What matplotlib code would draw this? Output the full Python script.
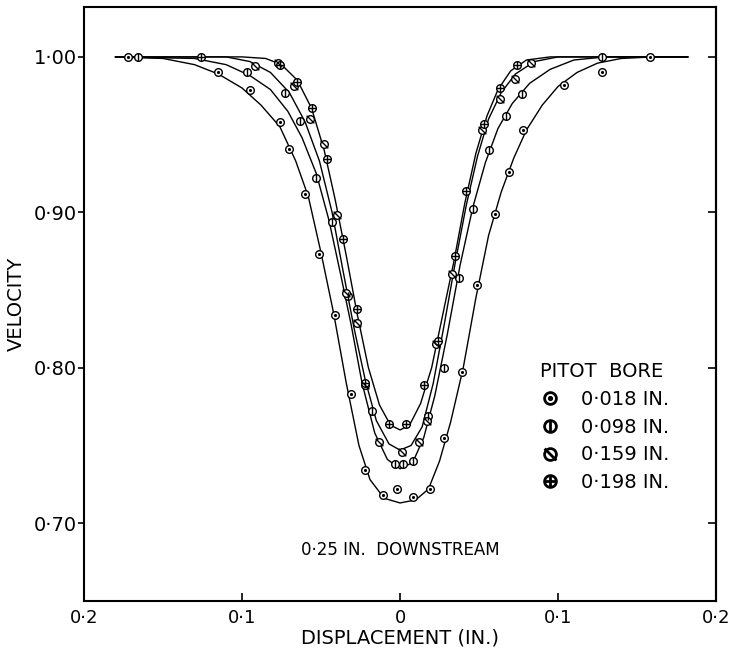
import numpy as np
import matplotlib.pyplot as plt
from matplotlib.path import Path
from matplotlib.lines import Line2D
from matplotlib.legend_handler import HandlerTuple

plt.rcParams['font.family'] = ['DejaVu Sans']

# measured points, pitot bore 0.018 in
x018 = [-0.172, -0.115, -0.095, -0.076, -0.070, -0.060, -0.051, -0.041, -0.031, -0.022,
        -0.011, -0.002, 0.008, 0.019, 0.028, 0.039, 0.049, 0.060, 0.069, 0.078, 0.104, 0.128, 0.158]
v018 = [1.000, 0.990, 0.979, 0.958, 0.941, 0.912, 0.873, 0.834, 0.783, 0.734,
        0.718, 0.722, 0.717, 0.722, 0.755, 0.797, 0.853, 0.899, 0.926, 0.953, 0.982, 0.990, 1.000]
# 0.098 in
x098 = [-0.166, -0.097, -0.073, -0.063, -0.053, -0.043, -0.033, -0.018, -0.003, 0.002,
        0.008, 0.018, 0.028, 0.037, 0.046, 0.056, 0.067, 0.077, 0.128]
v098 = [1.000, 0.990, 0.977, 0.959, 0.922, 0.894, 0.846, 0.772, 0.738, 0.738,
        0.740, 0.769, 0.800, 0.858, 0.902, 0.940, 0.962, 0.976, 1.000]
# 0.159 in
x159 = [-0.092, -0.077, -0.067, -0.057, -0.048, -0.040, -0.034, -0.027, -0.022, -0.013,
        0.001, 0.012, 0.017, 0.023, 0.033, 0.052, 0.063, 0.073, 0.083]
v159 = [0.994, 0.996, 0.981, 0.960, 0.944, 0.898, 0.848, 0.829, 0.789, 0.752,
        0.746, 0.752, 0.766, 0.815, 0.860, 0.953, 0.973, 0.986, 0.996]
# 0.198 in
x198 = [-0.126, -0.076, -0.065, -0.056, -0.046, -0.036, -0.027, -0.022, -0.007, 0.004,
        0.015, 0.024, 0.035, 0.042, 0.053, 0.063, 0.074]
v198 = [1.000, 0.995, 0.984, 0.967, 0.934, 0.883, 0.838, 0.790, 0.764, 0.764,
        0.789, 0.817, 0.872, 0.914, 0.957, 0.980, 0.995]

# faired curves
cx018 = [-0.180, -0.150, -0.130, -0.115, -0.100, -0.088, -0.076, -0.066, -0.058, -0.050, -0.042,
         -0.034, -0.026, -0.019, -0.010, 0.000, 0.010, 0.018, 0.025, 0.032, 0.040, 0.048, 0.056,
         0.064, 0.072, 0.080, 0.090, 0.100, 0.112, 0.125, 0.140, 0.160, 0.182]
cv018 = [1.000, 0.999, 0.995, 0.989, 0.980, 0.969, 0.955, 0.933, 0.910, 0.874, 0.835,
         0.790, 0.750, 0.728, 0.716, 0.713, 0.715, 0.722, 0.740, 0.765, 0.800, 0.845, 0.885,
         0.913, 0.935, 0.953, 0.969, 0.981, 0.990, 0.996, 0.999, 1.000, 1.000]
cx098 = [-0.180, -0.130, -0.110, -0.095, -0.082, -0.071, -0.062, -0.053, -0.045, -0.038, -0.031,
         -0.024, -0.016, -0.008, 0.000, 0.008, 0.015, 0.022, 0.030, 0.038, 0.046, 0.054, 0.062,
         0.071, 0.082, 0.095, 0.110, 0.130, 0.182]
cv098 = [1.000, 0.999, 0.995, 0.988, 0.979, 0.965, 0.948, 0.925, 0.895, 0.862, 0.828,
         0.790, 0.758, 0.741, 0.735, 0.739, 0.755, 0.782, 0.822, 0.866, 0.903, 0.932, 0.954,
         0.970, 0.983, 0.992, 0.998, 1.000, 1.000]
cx159 = [-0.180, -0.110, -0.095, -0.082, -0.070, -0.060, -0.051, -0.043, -0.036, -0.029, -0.022,
         -0.015, -0.007, 0.000, 0.007, 0.014, 0.021, 0.028, 0.035, 0.042, 0.049, 0.056, 0.064,
         0.073, 0.085, 0.100, 0.182]
cv159 = [1.000, 1.000, 0.997, 0.990, 0.977, 0.958, 0.933, 0.900, 0.862, 0.825, 0.792,
         0.766, 0.751, 0.747, 0.750, 0.762, 0.790, 0.828, 0.868, 0.905, 0.936, 0.960, 0.977,
         0.989, 0.997, 1.000, 1.000]
cx198 = [-0.180, -0.100, -0.085, -0.075, -0.065, -0.056, -0.048, -0.041, -0.034, -0.027, -0.020,
         -0.013, -0.006, 0.000, 0.006, 0.013, 0.020, 0.027, 0.034, 0.041, 0.048, 0.055, 0.062,
         0.070, 0.080, 0.095, 0.182]
cv198 = [1.000, 1.000, 0.999, 0.995, 0.985, 0.967, 0.940, 0.908, 0.872, 0.834, 0.800,
         0.776, 0.763, 0.760, 0.763, 0.777, 0.800, 0.834, 0.868, 0.906, 0.938, 0.962, 0.979,
         0.991, 0.998, 1.000, 1.000]

labels = ['0·018 IN.', '0·098 IN.', '0·159 IN.', '0·198 IN.']
xticks = [-0.2, -0.1, 0, 0.1, 0.2]
xticklabels = ['0·2', '0·1', '0', '0·1', '0·2']
yticks = [0.70, 0.80, 0.90, 1.00]
yticklabels = ['0·70', '0·80', '0·90', '1·00']

slash = Path([(-0.75, 0.75), (0.75, -0.75)], [Path.MOVETO, Path.LINETO])
inner = ['.', '|', slash, '+']
inner_ms = [2.5, 5.5, 5.5, 5.5]
legend_inner_ms = [3.5, 8.5, 8.5, 8.5]

fig = plt.figure(figsize=(7.30, 6.51), dpi=100)
ax = fig.add_axes([0.115, 0.077, 0.866, 0.912])

series = [(x018, v018, cx018, cv018), (x098, v098, cx098, cv098),
          (x159, v159, cx159, cv159), (x198, v198, cx198, cv198)]
handles = []
for (px, pv, cx, cv), im, ims, lms in zip(series, inner, inner_ms, legend_inner_ms):
    ax.plot(cx, cv, color='black', lw=1.0, zorder=2)
    ax.plot(px, pv, ls='none', marker='o', ms=5.5, mfc='white', mec='black', mew=1.0, zorder=3)
    ax.plot(px, pv, ls='none', marker=im, ms=ims, color='black', mew=1.0, zorder=4)
    h1 = Line2D([], [], ls='none', marker='o', ms=8.5, mfc='white', mec='black', mew=2.0)
    h2 = Line2D([], [], ls='none', marker=im, ms=lms, color='black', mew=2.0)
    handles.append((h1, h2))

ax.set_xlim(-0.2, 0.2)
ax.set_ylim(0.65, 1.032)
ax.set_xticks(xticks)
ax.set_xticklabels(xticklabels)
ax.set_yticks(yticks)
ax.set_yticklabels(yticklabels)
ax.tick_params(axis='x', direction='in', length=6, width=1.2, labelsize=13, pad=6)
ax.tick_params(axis='y', direction='out', length=4, width=1.2, labelsize=14, pad=1)
sec = ax.secondary_yaxis('right')
sec.set_yticks(yticks)
sec.tick_params(direction='in', length=6, width=1.2, labelright=False)
sec.spines['right'].set_linewidth(1.5)
for s in ax.spines.values():
    s.set_linewidth(1.5)

ax.set_xlabel('DISPLACEMENT (IN.)', fontsize=14, labelpad=1)
ax.set_ylabel('VELOCITY', fontsize=14, labelpad=6)

ax.text(0.0, 0.683, '0·25 IN.  DOWNSTREAM', fontsize=12, ha='center', va='center')

leg = ax.legend(handles, labels, handler_map={tuple: HandlerTuple(ndivide=1, pad=0)},
                title='PITOT  BORE', loc='upper left', bbox_to_anchor=(0.70, 0.425),
                frameon=False, fontsize=14, title_fontsize=14, alignment='left',
                handlelength=1.0, handletextpad=1.1, labelspacing=0.45, borderpad=0.2)

fig.savefig('out.png', dpi=100)
